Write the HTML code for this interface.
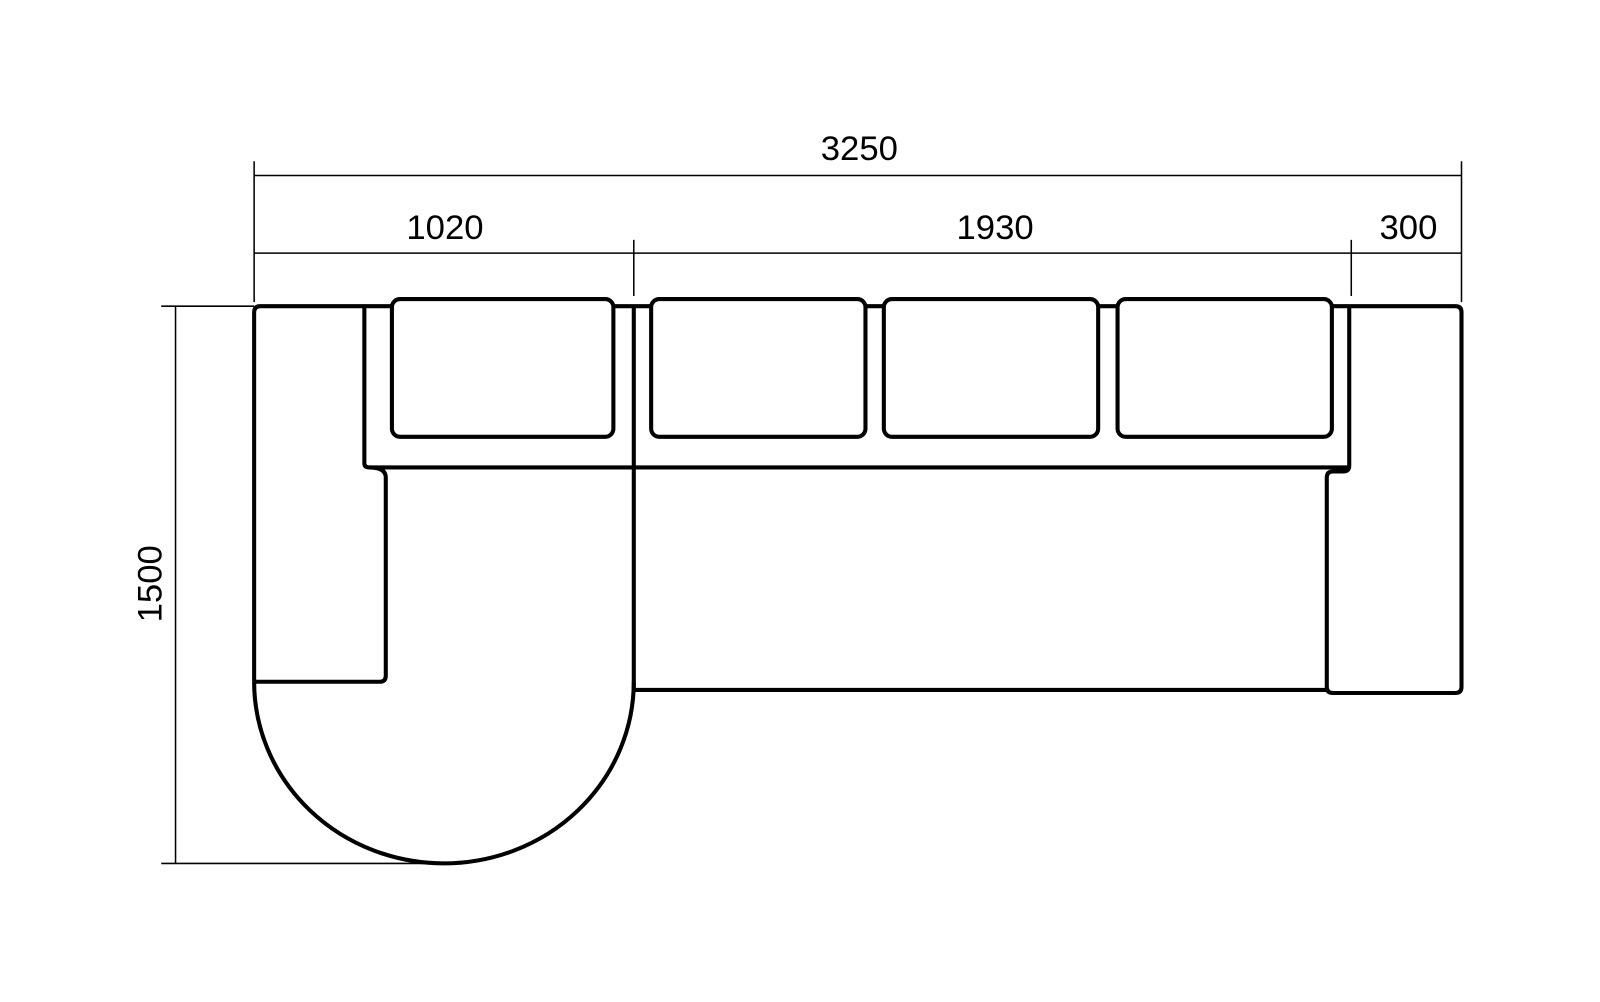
<!DOCTYPE html>
<html><head><meta charset="utf-8"><style>html,body{margin:0;padding:0;background:#fff}svg{display:block}</style></head>
<body>
<svg width="1600" height="1002" viewBox="0 0 1600 1002" xmlns="http://www.w3.org/2000/svg">
<g transform="scale(1.0206)">
<g stroke="#000" stroke-width="1.5" fill="none">
<line x1="249" y1="172" x2="1432" y2="172"/>
<line x1="249" y1="158" x2="249" y2="296"/>
<line x1="1432" y1="158" x2="1432" y2="296"/>
<line x1="249" y1="248" x2="1432" y2="248"/>
<line x1="621" y1="235" x2="621" y2="290"/>
<line x1="1324" y1="235" x2="1324" y2="290"/>
<line x1="172" y1="300" x2="172" y2="846"/>
<line x1="158" y1="300" x2="249" y2="300"/>
<line x1="158" y1="846" x2="420" y2="846"/>
</g>
<g stroke="#000" stroke-width="4" fill="none" stroke-linejoin="round">
<path d="M249,668 L249,306 Q249,300 255,300 L1426,300 Q1432,300 1432,306 L1432,673 Q1432,679 1426,679 L1306,679 Q1300,679 1300,673 L1300,468 Q1300,462 1306,462 L1316,462 Q1322,462 1322,456 L1322,300"/>
<path d="M357,300 L357,454 Q357,458 362,458 L1322,458"/>
<path d="M362,458 Q378,458 378,468 L378,662 Q378,668 372,668 L249,668"/>
<path d="M249,668 A186,178 0 0 0 621,668"/>
<line x1="621" y1="300" x2="621" y2="676"/>
<line x1="621" y1="676" x2="1300" y2="676"/>
<rect x="384" y="293" width="217" height="135" rx="8" fill="#fff"/>
<rect x="638" y="293" width="210" height="135" rx="8" fill="#fff"/>
<rect x="866" y="293" width="210" height="135" rx="8" fill="#fff"/>
<rect x="1095" y="293" width="210" height="135" rx="8" fill="#fff"/>
</g>
<g font-family="Liberation Sans, sans-serif" font-size="34" fill="#000" text-anchor="middle">
<text x="842" y="157">3250</text>
<text x="436" y="234">1020</text>
<text x="975" y="234">1930</text>
<text x="1380" y="234">300</text>
<text x="0" y="0" transform="translate(158,572) rotate(-90)">1500</text>
</g>
</g>
</svg>
</body></html>
